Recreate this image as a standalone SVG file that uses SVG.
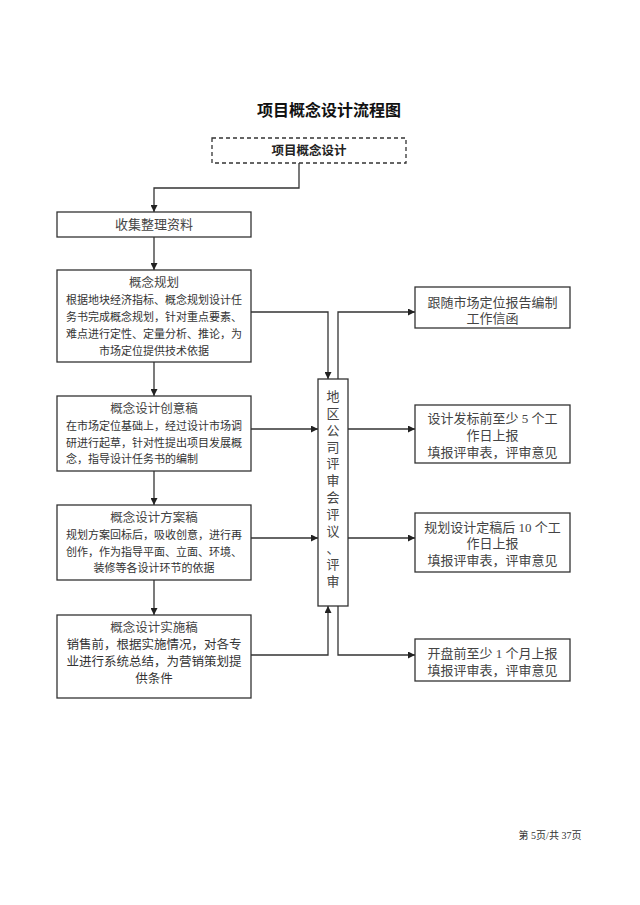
<svg xmlns="http://www.w3.org/2000/svg" width="640" height="905" viewBox="0 0 640 905">
<style>
.box{fill:#fff;stroke:#333;stroke-width:1.3}
.dash{fill:#fff;stroke:#333;stroke-width:1.3;stroke-dasharray:4 3}
.ln{fill:none;stroke:#333;stroke-width:1.3}
text{font-family:"Liberation Serif","Noto Sans CJK SC",serif;fill:#333;text-anchor:middle;dominant-baseline:central}
.t{font-size:12.5px;fill:#444}
.b{font-size:11px}
.b2{font-size:12.5px}
.r{font-size:13px;fill:#444}
.v{font-size:13px;fill:#444}
.title{font-size:16px;font-weight:bold;fill:#111}
.lft{text-anchor:start}
</style>
<defs>
<marker id="ar" viewBox="0 0 10 10" refX="10" refY="5" markerWidth="7" markerHeight="7" markerUnits="userSpaceOnUse" orient="auto">
<path d="M0,0 L10,5 L0,10 z" fill="#222"/>
</marker>
</defs>
<rect width="640" height="905" fill="#fff"/>
<text class="title" x="329" y="110">项目概念设计流程图</text>

<g id="connectors">
<polyline class="ln" points="299,163 299,188 154,188 154,212" marker-end="url(#ar)"/>
<line class="ln" x1="154" y1="237" x2="154" y2="270" marker-end="url(#ar)"/>
<line class="ln" x1="154" y1="362" x2="154" y2="396" marker-end="url(#ar)"/>
<line class="ln" x1="154" y1="471" x2="154" y2="505" marker-end="url(#ar)"/>
<line class="ln" x1="154" y1="580" x2="154" y2="615" marker-end="url(#ar)"/>
<polyline class="ln" points="251,312 328,312 328,379" marker-end="url(#ar)"/>
<polyline class="ln" points="338,379 338,312 415,312" marker-end="url(#ar)"/>
<line class="ln" x1="251" y1="429" x2="318" y2="429" marker-end="url(#ar)"/>
<line class="ln" x1="348" y1="429" x2="415" y2="429" marker-end="url(#ar)"/>
<line class="ln" x1="251" y1="538" x2="318" y2="538" marker-end="url(#ar)"/>
<line class="ln" x1="348" y1="538" x2="415" y2="538" marker-end="url(#ar)"/>
<polyline class="ln" points="251,655 328,655 328,606" marker-end="url(#ar)"/>
<polyline class="ln" points="338,606 338,655 415,655" marker-end="url(#ar)"/>
</g>

<g id="start">
<rect class="dash" x="212" y="138" width="194" height="25"/>
<text x="309" y="150.5" style="font-size:12.5px;font-weight:bold;fill:#222">项目概念设计</text>
</g>

<g id="collect">
<rect class="box" x="57" y="212" width="194" height="25"/>
<text class="r" x="154" y="224.5">收集整理资料</text>
</g>

<g id="plan">
<rect class="box" x="57" y="270" width="194" height="92"/>
<text class="t" x="154" y="283">概念规划</text>
<text class="b" x="154" y="300">根据地块经济指标、概念规划设计任</text>
<text class="b" x="154" y="317">务书完成概念规划，针对重点要素、</text>
<text class="b" x="154" y="334">难点进行定性、定量分析、推论，为</text>
<text class="b" x="154" y="351">市场定位提供技术依据</text>
</g>

<g id="idea">
<rect class="box" x="57" y="396" width="194" height="75"/>
<text class="t" x="154" y="409">概念设计创意稿</text>
<text class="b lft" x="66" y="426">在市场定位基础上，经过设计市场调</text>
<text class="b lft" x="66" y="443">研进行起草，针对性提出项目发展概</text>
<text class="b lft" x="66" y="459">念，指导设计任务书的编制</text>
</g>

<g id="scheme">
<rect class="box" x="57" y="505" width="194" height="75"/>
<text class="t" x="154" y="518">概念设计方案稿</text>
<text class="b" x="154" y="535">规划方案回标后，吸收创意，进行再</text>
<text class="b" x="154" y="552">创作，作为指导平面、立面、环境、</text>
<text class="b" x="154" y="568">装修等各设计环节的依据</text>
</g>

<g id="impl">
<rect class="box" x="57" y="615" width="194" height="83"/>
<text class="t" x="154" y="628">概念设计实施稿</text>
<text class="b2" x="154" y="645">销售前，根据实施情况，对各专</text>
<text class="b2" x="154" y="662">业进行系统总结，为营销策划提</text>
<text class="b2" x="154" y="679">供条件</text>
</g>

<g id="review">
<rect class="box" x="318" y="379" width="30" height="227"/>
<text class="v" x="333" y="396">地</text>
<text class="v" x="333" y="413">区</text>
<text class="v" x="333" y="430">公</text>
<text class="v" x="333" y="447">司</text>
<text class="v" x="333" y="463">评</text>
<text class="v" x="333" y="480">审</text>
<text class="v" x="333" y="497">会</text>
<text class="v" x="333" y="514">评</text>
<text class="v" x="333" y="531">议</text>
<text class="v" x="333" y="548">、</text>
<text class="v" x="333" y="564">评</text>
<text class="v" x="333" y="581">审</text>
</g>

<g id="r1">
<rect class="box" x="415" y="287" width="155" height="41"/>
<text class="r" x="492.5" y="302">跟随市场定位报告编制</text>
<text class="r" x="492.5" y="318">工作信函</text>
</g>

<g id="r2">
<rect class="box" x="415" y="405" width="155" height="58"/>
<text class="r" x="492.5" y="418">设计发标前至少 5 个工</text>
<text class="r" x="492.5" y="435">作日上报</text>
<text class="r" x="492.5" y="452">填报评审表，评审意见</text>
</g>

<g id="r3">
<rect class="box" x="415" y="513" width="155" height="59"/>
<text class="r" x="492.5" y="527">规划设计定稿后 10 个工</text>
<text class="r" x="492.5" y="543">作日上报</text>
<text class="r" x="492.5" y="560">填报评审表，评审意见</text>
</g>

<g id="r4">
<rect class="box" x="415" y="639" width="155" height="42"/>
<text class="r" x="492.5" y="653">开盘前至少 1 个月上报</text>
<text class="r" x="492.5" y="670">填报评审表，评审意见</text>
</g>

<text x="550" y="835" style="font-size:10px;fill:#333">第 5页/共 37页</text>
</svg>
